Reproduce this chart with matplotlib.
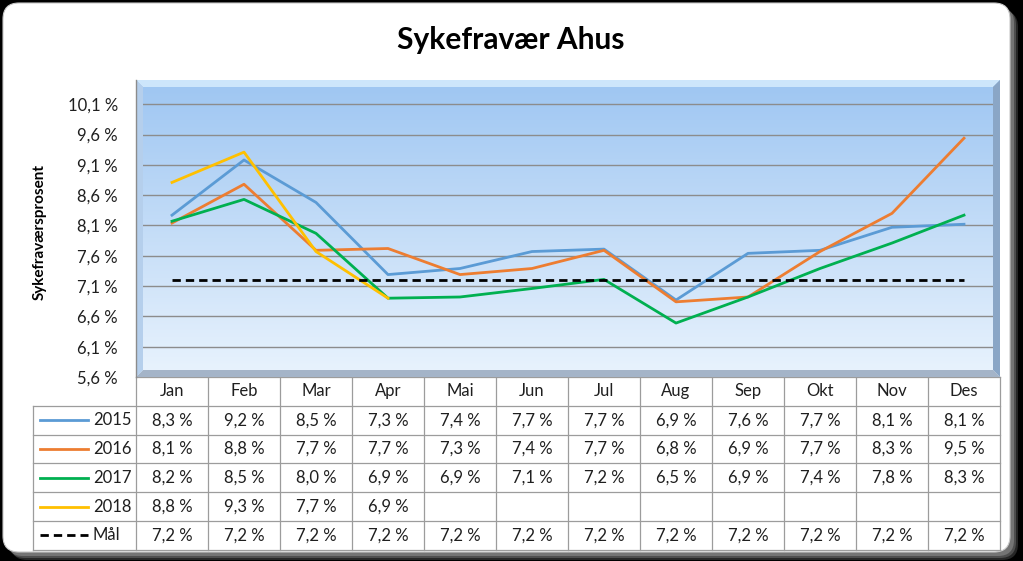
import numpy as np
import matplotlib
matplotlib.use("Agg")
import matplotlib.pyplot as plt
from matplotlib.patches import FancyBboxPatch, Polygon

plt.rcParams['font.family'] = ['Lato', 'DejaVu Sans']

# =========================
# DATA
# =========================
months = ["Jan", "Feb", "Mar", "Apr", "Mai", "Jun", "Jul", "Aug", "Sep", "Okt", "Nov", "Des"]
y2015 = [8.27, 9.18, 8.48, 7.29, 7.39, 7.67, 7.71, 6.87, 7.64, 7.69, 8.07, 8.12]
y2016 = [8.14, 8.78, 7.69, 7.72, 7.29, 7.39, 7.69, 6.84, 6.92, 7.67, 8.30, 9.54]
y2017 = [8.17, 8.53, 7.97, 6.90, 6.92, 7.06, 7.21, 6.49, 6.92, 7.39, 7.81, 8.27]
y2018 = [8.81, 9.31, 7.67, 6.90, None, None, None, None, None, None, None, None]
maal = [7.2] * 12
yticks = [5.6, 6.1, 6.6, 7.1, 7.6, 8.1, 8.6, 9.1, 9.6, 10.1]

series = [
    ("2015", y2015, "#5B9BD5", "-"),
    ("2016", y2016, "#ED7D31", "-"),
    ("2017", y2017, "#00B050", "-"),
    ("2018", y2018, "#FFC000", "-"),
    ("Mål", maal, "black", "--"),
]


def pct(v):
    if v is None:
        return ""
    return f"{v:.1f} %".replace(".", ",")


# =========================
# FIGURE + FRAME (pixel coords)
# =========================
W, H = 1023, 561
fig = plt.figure(figsize=(W / 100, H / 100), dpi=100, facecolor="black")
bg = fig.add_axes([0, 0, 1, 1])
bg.set_xlim(0, W)
bg.set_ylim(H, 0)
bg.axis("off")

# shadow
for i, a in enumerate([0.25, 0.35, 0.5]):
    off = 8 - i * 2
    bg.add_patch(FancyBboxPatch((3 + off, 3 + off), 1007, 549,
                                boxstyle="round,pad=0,rounding_size=16",
                                fc="#9a9a9a", ec="none", alpha=a))
bg.add_patch(FancyBboxPatch((3, 3), 1007, 549, boxstyle="round,pad=0,rounding_size=16",
                            fc="white", ec="#c8c8c8", lw=0.8))

# plot area geometry
L, R, T, B = 136, 1000, 80, 377
col_w = (R - L) / 12

# gradient background
grad = np.linspace(0, 1, 256)[:, None, None]
top_c = np.array([158, 198, 242]) / 255
bot_c = np.array([233, 243, 253]) / 255
img = top_c * (1 - grad) + bot_c * grad
bg.imshow(img, extent=(L, R, B, T), aspect="auto", origin="upper", zorder=1)

# =========================
# MAIN AXES
# =========================
ax = fig.add_axes([L / W, 1 - B / H, (R - L) / W, (B - T) / H])
ax.set_facecolor("none")
ax.set_xlim(-0.5, 11.5)
ax.set_ylim(5.6, 10.5)
ax.set_xticks([])
ax.set_yticks(yticks)
ax.set_yticklabels([pct(v) for v in yticks], fontsize=12, color="#1f1f1f")
ax.tick_params(axis="y", length=0, pad=13)
for s in ax.spines.values():
    s.set_visible(False)
ax.set_axisbelow(True)
ax.yaxis.grid(True, color="#8C8C8C", lw=1)

# bevel edges
bev = 7
bevels = [
    ([(L, T), (R, T), (R - bev, T + bev), (L + bev, T + bev)], "#CDE6FB"),
    ([(R, T), (R, B), (R - bev, B - bev), (R - bev, T + bev)], "#8AA6C6"),
    ([(L, B), (R, B), (R - bev, B - bev), (L + bev, B - bev)], "#A4B4C8"),
    ([(L, T), (L + bev, T + bev), (L + bev, B - bev), (L, B)], "#B5CFEC"),
]
for pts, c in bevels:
    ax.add_patch(Polygon(pts, closed=True, fc=c, ec="none", transform=bg.transData,
                         clip_on=False, zorder=1))
ax.plot([L, L], [T, B], color="#8C8C8C", lw=1, transform=bg.transData, clip_on=False, zorder=1.2)

x = np.arange(12)
for name, vals, c, ls in series:
    yv = np.array([np.nan if v is None else v for v in vals], dtype=float)
    if ls == "--":
        ax.plot(x, yv, color=c, lw=2.0, dashes=(3.0, 1.8), zorder=3)
    else:
        ax.plot(x, yv, color=c, lw=2.0, zorder=3)

# axis label + title
fig.text(40 / W, 1 - 232 / H, "Sykefraværsprosent", rotation=90, ha="center", va="center",
         fontsize=11, fontweight="bold", color="black")
fig.text(511 / W, 1 - 40 / H, "Sykefravær Ahus", ha="center", va="center",
         fontsize=21.5, fontweight="bold", color="black")

# =========================
# DATA TABLE
# =========================
row_h = 28.8
hdr_top = B
rows_top = B + row_h
tab_bot = rows_top + row_h * len(series)
leg_l = 33
lc = "#9C9C9C"

# month header
for i, m in enumerate(months):
    bg.text(L + col_w * (i + 0.5), hdr_top + row_h / 2, m, ha="center", va="center",
            fontsize=12, color="#1f1f1f", zorder=5)

# grid lines
bg.plot([L, R], [hdr_top, hdr_top], color=lc, lw=0.9, zorder=4)
for k in range(len(series) + 1):
    yy = rows_top + row_h * k
    bg.plot([leg_l, R], [yy, yy], color=lc, lw=0.9, zorder=4)
for k in range(13):
    xx = L + col_w * k
    bg.plot([xx, xx], [hdr_top, tab_bot], color=lc, lw=0.9, zorder=4)
bg.plot([leg_l, leg_l], [rows_top, tab_bot], color=lc, lw=0.9, zorder=4)

# rows
for r, (name, vals, c, ls) in enumerate(series):
    yc = rows_top + row_h * (r + 0.5)
    if ls == "--":
        bg.plot([40, 88], [yc, yc], color=c, lw=2.0, dashes=(3.0, 1.8), zorder=5)
    else:
        bg.plot([40, 88], [yc, yc], color=c, lw=2.0, zorder=5)
    bg.text(93, yc, name, ha="left", va="center", fontsize=12, color="#1f1f1f", zorder=5)
    for i, v in enumerate(vals):
        bg.text(L + col_w * (i + 0.5), yc, pct(v), ha="center", va="center",
                fontsize=12, color="#1f1f1f", zorder=5)

fig.savefig("out.png", dpi=100, facecolor="black")
